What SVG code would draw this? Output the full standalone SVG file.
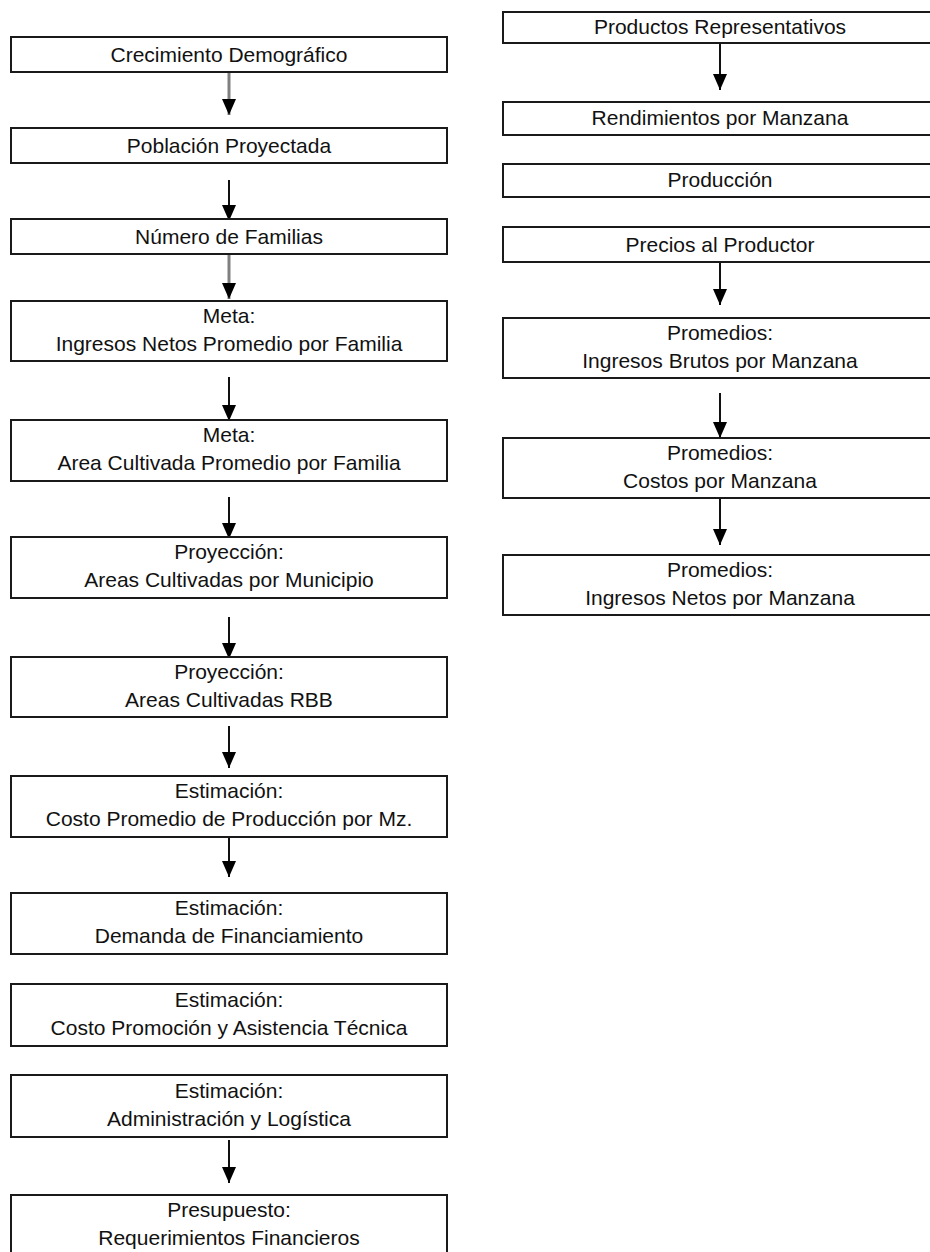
<svg xmlns="http://www.w3.org/2000/svg" width="930" height="1252" viewBox="0 0 930 1252">
<style>
.box{fill:#fff;stroke:#1a1a1a;stroke-width:2}
.t{font-family:"Liberation Sans",Arial,sans-serif;font-size:21px;fill:#111;text-anchor:middle}
.c{stroke:#111;stroke-width:2;fill:none;marker-end:url(#ah)}
.g{stroke:#808080;stroke-width:3}
</style>
<defs>
<marker id="ah" markerUnits="userSpaceOnUse" viewBox="0 0 16 14" refX="16" refY="7" markerWidth="16" markerHeight="14" orient="auto">
<path d="M0,0 L16,7 L0,14 z" fill="#000"/>
</marker>
</defs>
<rect width="930" height="1252" fill="#fff"/>
<g id="connectors">
<line class="c g" x1="229" y1="72" x2="229" y2="115"/>
<line class="c" x1="229" y1="180" x2="229" y2="221"/>
<line class="c g" x1="229" y1="254" x2="229" y2="299"/>
<line class="c" x1="229" y1="377" x2="229" y2="421"/>
<line class="c" x1="229" y1="497" x2="229" y2="539"/>
<line class="c" x1="229" y1="617" x2="229" y2="659"/>
<line class="c" x1="229" y1="726" x2="229" y2="768"/>
<line class="c" x1="229" y1="837" x2="229" y2="877"/>
<line class="c" x1="229" y1="1140" x2="229" y2="1183"/>
<line class="c" x1="720" y1="43" x2="720" y2="90"/>
<line class="c" x1="720" y1="262" x2="720" y2="305"/>
<line class="c" x1="720" y1="393" x2="720" y2="438"/>
<line class="c" x1="720" y1="498" x2="720" y2="545"/>
</g>
<g id="n1"><rect class="box" x="11" y="37" width="436" height="35"/><text class="t" x="229" y="62">Crecimiento Demográfico</text></g>
<g id="n2"><rect class="box" x="11" y="128" width="436" height="35"/><text class="t" x="229" y="153">Población Proyectada</text></g>
<g id="n3"><rect class="box" x="11" y="219" width="436" height="35"/><text class="t" x="229" y="244">Número de Familias</text></g>
<g id="n4"><rect class="box" x="11" y="301" width="436" height="60"/><text class="t" x="229" y="323">Meta:</text><text class="t" x="229" y="351">Ingresos Netos Promedio por Familia</text></g>
<g id="n5"><rect class="box" x="11" y="420" width="436" height="61"/><text class="t" x="229" y="442">Meta:</text><text class="t" x="229" y="470">Area Cultivada Promedio por Familia</text></g>
<g id="n6"><rect class="box" x="11" y="537" width="436" height="61"/><text class="t" x="229" y="559">Proyección:</text><text class="t" x="229" y="587">Areas Cultivadas por Municipio</text></g>
<g id="n7"><rect class="box" x="11" y="657" width="436" height="60"/><text class="t" x="229" y="679">Proyección:</text><text class="t" x="229" y="707">Areas Cultivadas RBB</text></g>
<g id="n8"><rect class="box" x="11" y="776" width="436" height="61"/><text class="t" x="229" y="798">Estimación:</text><text class="t" x="229" y="826">Costo Promedio de Producción por Mz.</text></g>
<g id="n9"><rect class="box" x="11" y="893" width="436" height="61"/><text class="t" x="229" y="915">Estimación:</text><text class="t" x="229" y="943">Demanda de Financiamiento</text></g>
<g id="n10"><rect class="box" x="11" y="984" width="436" height="62"/><text class="t" x="229" y="1007">Estimación:</text><text class="t" x="229" y="1035">Costo Promoción y Asistencia Técnica</text></g>
<g id="n11"><rect class="box" x="11" y="1075" width="436" height="62"/><text class="t" x="229" y="1098">Estimación:</text><text class="t" x="229" y="1126">Administración y Logística</text></g>
<g id="n12"><rect class="box" x="11" y="1195" width="436" height="70"/><text class="t" x="229" y="1217">Presupuesto:</text><text class="t" x="229" y="1245">Requerimientos Financieros</text></g>
<g id="r1"><rect class="box" x="503" y="12" width="436" height="31"/><text class="t" x="720" y="34">Productos Representativos</text></g>
<g id="r2"><rect class="box" x="503" y="102" width="436" height="33"/><text class="t" x="720" y="125">Rendimientos por Manzana</text></g>
<g id="r3"><rect class="box" x="503" y="164" width="436" height="33"/><text class="t" x="720" y="187">Producción</text></g>
<g id="r4"><rect class="box" x="503" y="227" width="436" height="35"/><text class="t" x="720" y="252">Precios al Productor</text></g>
<g id="r5"><rect class="box" x="503" y="318" width="436" height="60"/><text class="t" x="720" y="340">Promedios:</text><text class="t" x="720" y="368">Ingresos Brutos por Manzana</text></g>
<g id="r6"><rect class="box" x="503" y="438" width="436" height="60"/><text class="t" x="720" y="460">Promedios:</text><text class="t" x="720" y="488">Costos por Manzana</text></g>
<g id="r7"><rect class="box" x="503" y="555" width="436" height="60"/><text class="t" x="720" y="577">Promedios:</text><text class="t" x="720" y="605">Ingresos Netos por Manzana</text></g>
</svg>
